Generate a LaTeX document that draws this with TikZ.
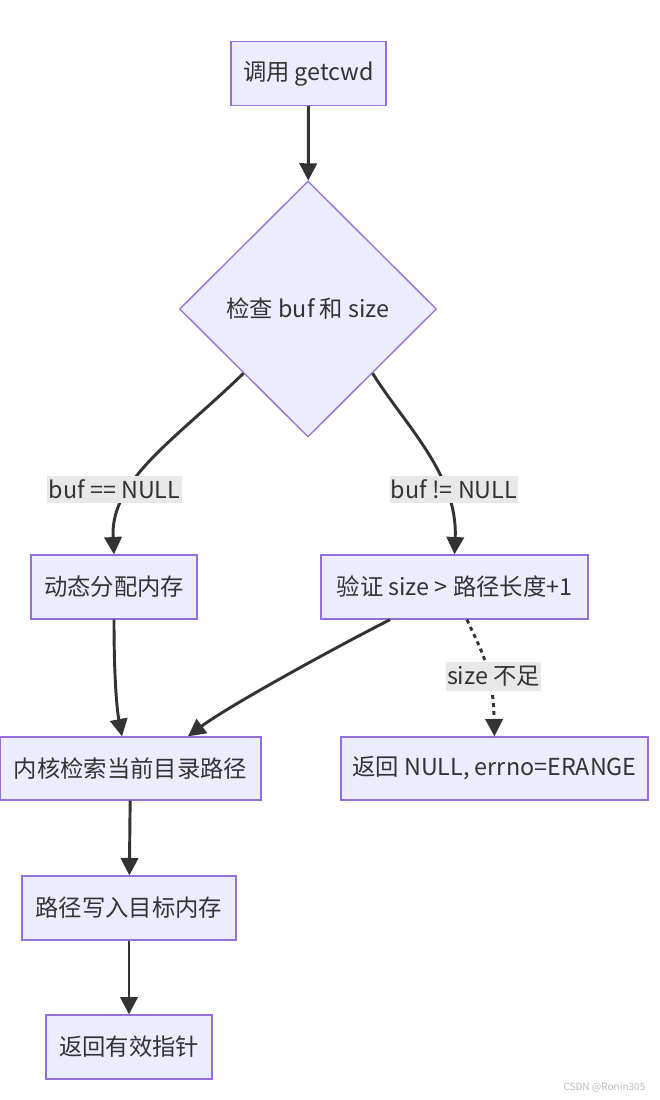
\documentclass[tikz,border=0pt]{standalone}
\usepackage{fontspec}
\setmainfont{Noto Sans CJK SC}
\usepackage{xcolor}
\usepackage{tikz}
\usetikzlibrary{shapes.geometric, arrows.meta, calc}

\definecolor{nodefill}{HTML}{ECECFF}
\definecolor{nodeline}{HTML}{9370DB}
\definecolor{ink}{HTML}{333333}
\definecolor{lblbg}{HTML}{E8E8E8}

\begin{document}
\begin{tikzpicture}[
    x=0.75pt, y=-0.75pt,
    proc/.style={draw=nodeline, line width=1pt, fill=nodefill, minimum height=48pt, inner sep=2pt, text=ink, font=\fontsize{17.5}{21}\selectfont},
    cond/.style={proc, diamond, minimum width=192.75pt, minimum height=192pt, inner sep=0pt},
    flow_line/.style={line width=2.2pt, draw=ink, -{Triangle[length=13pt, width=13pt]}},
    dot_line/.style={flow_line, dash pattern=on 3pt off 3pt},
    lbl/.style={fill=lblbg, text=ink, inner xsep=1pt, inner ysep=3pt, font=\fontsize{17.5}{21}\selectfont}
]
    \path [fill=white, use as bounding box] (0,0) rectangle (660,1100);

    % Steps
    \node (call) [proc, minimum width=116.25pt] at (308.5, 73.5) {调用 getcwd};
    \node (check) [cond] at (308, 309) {检查 buf 和 size};
    \node (alloc) [proc, minimum width=124.5pt] at (114, 587) {动态分配内存};
    \node (verify) [proc, minimum width=200.25pt] at (454.5, 587) {验证 size > 路径长度+1};
    \node (kernel) [proc, minimum width=195.75pt, minimum height=47.25pt] at (130.5, 768.5) {内核检索当前目录路径};
    \node (err) [proc, minimum width=230.25pt, minimum height=47.25pt] at (494.5, 768.5) {返回 NULL, errno=ERANGE};
    \node (write) [proc, minimum width=160.5pt] at (129, 908) {路径写入目标内存};
    \node (ret) [proc, minimum width=124.5pt] at (129, 1047) {返回有效指针};

    % Flow
    \draw [flow_line] (call) -- (check);
    \draw [flow_line] (check.south west) .. controls (175, 440) and (110, 480) .. (alloc.north);
    \draw [flow_line] (check.south east) .. controls (405, 425) and (458, 475) .. (verify.north);
    \draw [flow_line] (alloc.south) .. controls (114, 680) and (117, 710) .. ($(kernel.north)+(-8.5, 0)$);
    \draw [flow_line] ($(verify.south)+(-64.5, 0)$) .. controls (340, 645) and (230, 705) .. ($(kernel.north)+(57.5, 0)$);
    \draw [dot_line] ($(verify.south)+(12.5, 0)$) .. controls (478, 645) and (493, 665) .. (err.north);
    \draw [flow_line] (kernel) -- (write);
    \draw [flow_line] (write) -- (ret);

    % Edge labels
    \node (l_null) [lbl] at (114.5, 489.5) {buf == NULL};
    \node (l_notnull) [lbl] at (454, 489.5) {buf != NULL};
    \node (l_size) [lbl] at (493.5, 676.5) {size 不足};

    \node (mark) [anchor=east, text=gray!55, font=\fontsize{7.5}{9}\selectfont] at (650, 1087) {CSDN @Ronin305};
\end{tikzpicture}
\end{document}
